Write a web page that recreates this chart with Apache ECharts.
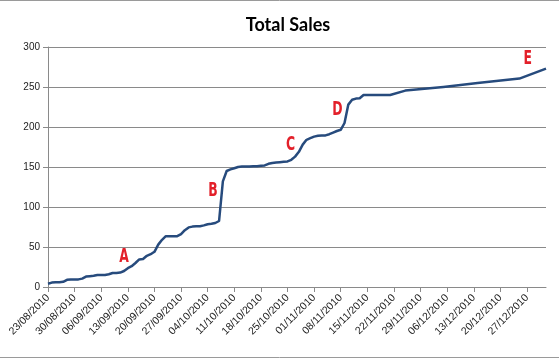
<!DOCTYPE html>
<html>
<head>
<meta charset="utf-8">
<script src="https://cdn.jsdelivr.net/npm/echarts@6/dist/echarts.min.js"></script>
<style>
  html, body { margin: 0; padding: 0; background: #ffffff; }
  #chart { width: 559px; height: 360px; }
</style>
</head>
<body>
<div id="chart"></div>
<script>
// ---- Data ----
const chartTitle = 'Total Sales';
const startDate = '23/08/2010';          // day 0 of the x axis
// days since 23/08/2010
const days = [0,1,2,3,4,5,6,7,8,9,10,11,12,13,14,15,16,17,18,19,20,21,22,23,24,25,26,27,28,29,
  30,31,32,33,34,35,36,37,38,39,40,41,42,43,44,45,46,47,48,49,50,51,52,53,54,55,56,57,58,59,
  60,61,62,63,64,65,66,67,68,69,70,71,72,73,74,75,76,77,78,79,80,81,82,83,84,85,86,87,88,89,90,
  94,104,113,124,131];
// cumulative total sales
const totals = [4,5.5,6,6,6.5,9,9.5,9.5,9.5,10.5,13,13.5,14,15,15,15,16,17.5,17.5,18,20,23.5,26,30,34.5,35,39,41,44,53,
  59,63.5,63.5,63.5,63.5,66,71,74.5,75.5,76,76,77,78.5,79,80,82.5,132,145,147,148.5,150,150.5,150.5,150.5,151,151,151.5,152,154,155,
  155.5,156,156.5,157,159,163,169,178,184,186,188,189,189.5,189.5,191,193,195,196.5,205,228,234,235.5,236,240,240,240,240,240,240,240,240,
  245.5,250,255,260.5,273];
// weekly tick labels (every 7 days from 23/08/2010)
const tickLabels = ['23/08/2010','30/08/2010','06/09/2010','13/09/2010','20/09/2010','27/09/2010',
  '04/10/2010','11/10/2010','18/10/2010','25/10/2010','01/11/2010','08/11/2010','15/11/2010',
  '22/11/2010','29/11/2010','06/12/2010','13/12/2010','20/12/2010','27/12/2010'];
const xMaxDay = 131;                      // axis ends at 01/01/2011
const yTicks = [0, 50, 100, 150, 200, 250, 300];
// annotation letters (day, value)
const noteLetters = ['A', 'B', 'C', 'D', 'E'];
const noteDays    = [20, 43.4, 63.8, 76.1, 126.2];
const noteValues  = [37.6, 120, 178, 222, 284.7];

// ---- Chart ----
const tickDays = tickLabels.map((_, i) => i * 7);
const lineData = days.map((d, i) => [d, totals[i]]);
const gridColor = '#8a8a8a';
const labelFont = "'Liberation Sans', Arial, sans-serif";

const chart = echarts.init(document.getElementById('chart'), null, { renderer: 'canvas' });
chart.setOption({
  animation: false,
  backgroundColor: '#ffffff',
  title: {
    text: chartTitle,
    left: 283,
    textAlign: 'center',
    top: 11,
    textStyle: { fontFamily: 'Lato, sans-serif', fontWeight: 'bold', fontSize: 18, color: '#000' }
  },
  grid: { left: 48, right: 13, top: 47, bottom: 73 },
  xAxis: {
    type: 'value',
    min: 0,
    max: xMaxDay,
    interval: 7,
    axisLine: { show: true, lineStyle: { color: gridColor, width: 1 } },
    axisTick: { show: true, length: 5, lineStyle: { color: gridColor }, customValues: tickDays },
    splitLine: { show: false },
    axisLabel: {
      customValues: tickDays,
      rotate: 45,
      margin: 9,
      fontFamily: labelFont,
      fontSize: 10.5,
      color: '#222',
      formatter: function (v) {
        const idx = Math.round(v / 7);
        return (Math.abs(v - idx * 7) < 1e-6 && tickLabels[idx]) ? tickLabels[idx] : '';
      }
    }
  },
  yAxis: {
    type: 'value',
    min: yTicks[0],
    max: yTicks[yTicks.length - 1],
    interval: yTicks[1] - yTicks[0],
    axisLine: { show: true, lineStyle: { color: gridColor, width: 1 } },
    axisTick: { show: true, length: 5, lineStyle: { color: gridColor } },
    splitLine: { show: true, lineStyle: { color: gridColor, width: 1 } },
    axisLabel: { margin: 8, fontFamily: labelFont, fontSize: 10, color: '#222' }
  },
  series: [{
    type: 'line',
    data: lineData,
    showSymbol: false,
    symbol: 'none',
    lineStyle: { color: '#274b7d', width: 2.5, join: 'round' }
  }],
  graphic: [
    { type: 'line', shape: { x1: 0, y1: 0.5, x2: 559, y2: 0.5 }, style: { stroke: '#9a9a9a', lineWidth: 1 } },
    { type: 'line', shape: { x1: 0, y1: 357.5, x2: 559, y2: 357.5 }, style: { stroke: '#9a9a9a', lineWidth: 1 } }
  ]
});

// Annotation letters: placed at data coordinates through the chart's own scales,
// drawn condensed (narrow, tall) like the reference.
const notes = noteLetters.map((l, i) => {
  const p = chart.convertToPixel({ gridIndex: 0 }, [noteDays[i], noteValues[i]]);
  return {
    type: 'text',
    x: p[0],
    y: p[1],
    scaleX: 0.62,
    scaleY: 1,
    z: 10,
    style: {
      text: l,
      fill: '#e3202a',
      font: "bold 20px 'DejaVu Sans', sans-serif",
      align: 'center',
      verticalAlign: 'middle'
    }
  };
});
chart.setOption({ graphic: notes.map((n, i) => Object.assign({ id: 'note' + i }, n)) });
</script>
</body>
</html>
